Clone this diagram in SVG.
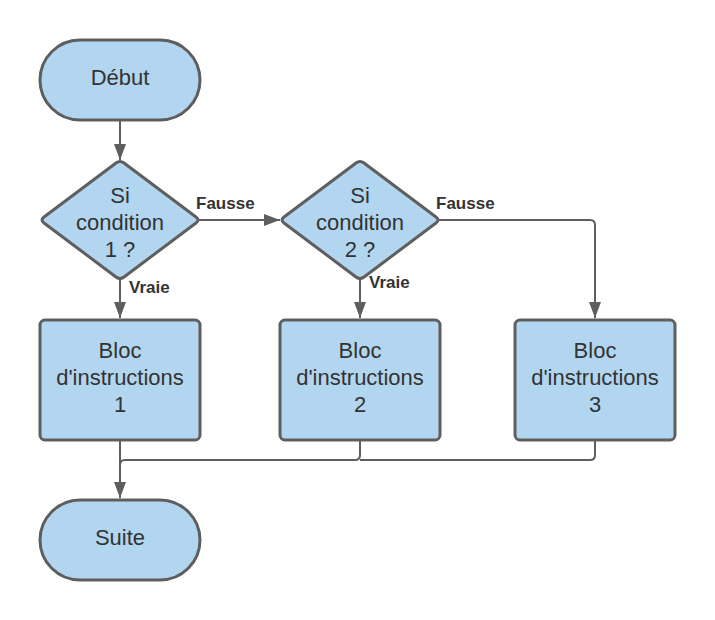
<svg xmlns="http://www.w3.org/2000/svg" width="715" height="620" viewBox="0 0 715 620">
<defs>
<style>
.shape{fill:#b2d6f0;stroke:#5e5e5e;stroke-width:3;stroke-linejoin:round}
.t{font-family:"Liberation Sans",Arial,sans-serif;font-size:22px;fill:#333333;text-anchor:middle}
.lbl{font-family:"Liberation Sans",Arial,sans-serif;font-size:17px;font-weight:bold;fill:#333333}
.conn{fill:none;stroke:#5e5e5e;stroke-width:2}
</style>
<marker id="arr" viewBox="0 0 16 12" refX="16" refY="6" markerWidth="16" markerHeight="12" markerUnits="userSpaceOnUse" orient="auto">
<path d="M0,0 L16,6 L0,12 Z" fill="#5e5e5e"/>
</marker>
</defs>
<rect width="715" height="620" fill="#ffffff"/>
<g id="connectors">
<path class="conn" d="M120,120 V160" marker-end="url(#arr)"/>
<path class="conn" d="M199,220 H280" marker-end="url(#arr)"/>
<path class="conn" d="M120,279 V318" marker-end="url(#arr)"/>
<path class="conn" d="M360,279 V318" marker-end="url(#arr)"/>
<path class="conn" d="M439,220 H590 Q595,220 595,225 V318" marker-end="url(#arr)"/>
<path class="conn" d="M120,440 V498" marker-end="url(#arr)"/>
<path class="conn" d="M360,440 V455 Q360,460 355,460 H125 Q120,460 120,465"/>
<path class="conn" d="M595,440 V455 Q595,460 590,460 H360"/>
<text class="lbl" x="196" y="209">Fausse</text>
<text class="lbl" x="129" y="293">Vraie</text>
<text class="lbl" x="436" y="209">Fausse</text>
<text class="lbl" x="369" y="288">Vraie</text>
</g>
<g id="debut">
<rect class="shape" x="40" y="40" width="160" height="80" rx="40" ry="40"/>
<text class="t" x="120" y="85">Début</text>
</g>
<g id="cond1">
<path class="shape" d="M116,163 Q120,160 124,163 L196,217 Q200,220 196,223 L124,277 Q120,280 116,277 L44,223 Q40,220 44,217 Z"/>
<text class="t" x="120" y="203">Si</text>
<text class="t" x="120" y="230">condition</text>
<text class="t" x="120" y="257">1 ?</text>
</g>
<g id="cond2">
<path class="shape" d="M356,163 Q360,160 364,163 L436,217 Q440,220 436,223 L364,277 Q360,280 356,277 L284,223 Q280,220 284,217 Z"/>
<text class="t" x="360" y="203">Si</text>
<text class="t" x="360" y="230">condition</text>
<text class="t" x="360" y="257">2 ?</text>
</g>
<g id="bloc1">
<rect class="shape" x="40" y="320" width="160" height="120" rx="5" ry="5"/>
<text class="t" x="120" y="358">Bloc</text>
<text class="t" x="120" y="385">d'instructions</text>
<text class="t" x="120" y="412">1</text>
</g>
<g id="bloc2">
<rect class="shape" x="280" y="320" width="160" height="120" rx="5" ry="5"/>
<text class="t" x="360" y="358">Bloc</text>
<text class="t" x="360" y="385">d'instructions</text>
<text class="t" x="360" y="412">2</text>
</g>
<g id="bloc3">
<rect class="shape" x="515" y="320" width="160" height="120" rx="5" ry="5"/>
<text class="t" x="595" y="358">Bloc</text>
<text class="t" x="595" y="385">d'instructions</text>
<text class="t" x="595" y="412">3</text>
</g>
<g id="suite">
<rect class="shape" x="40" y="500" width="160" height="80" rx="40" ry="40"/>
<text class="t" x="120" y="545">Suite</text>
</g>
</svg>
